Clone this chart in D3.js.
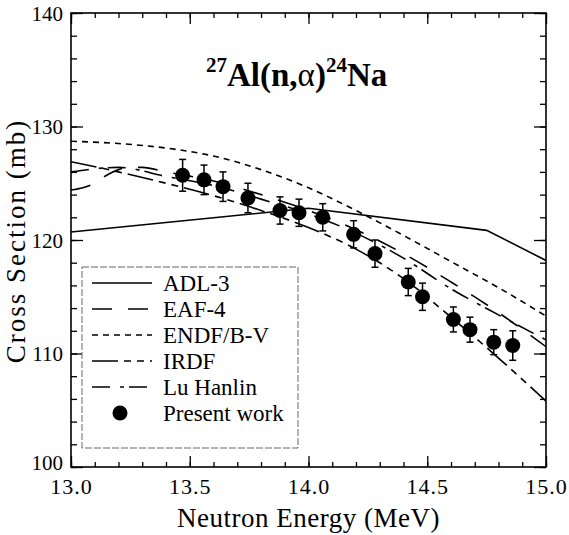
<!DOCTYPE html>
<html><head><meta charset="utf-8">
<script src="https://cdn.jsdelivr.net/npm/d3@7"></script>
<style>body{margin:0;background:#fff} svg text{font-family:'Liberation Serif','Times New Roman',Times,Tinos,'DejaVu Serif',serif !important}</style>
</head><body><svg id="c" width="569" height="535" font-family="Liberation Serif, Times New Roman, DejaVu Serif, serif"></svg>
<script>
// ---- data ----
const energy = [13.47,13.56,13.64,13.745,13.88,13.96,14.06,14.19,14.28,14.42,14.48,14.61,14.68,14.78,14.86];
const crossSection = [125.7,125.3,124.7,123.7,122.6,122.4,122.0,120.5,118.8,116.3,115.0,113.0,112.1,111.0,110.7];
const errorBar = [1.4,1.3,1.3,1.3,1.2,1.2,1.2,1.2,1.2,1.2,1.2,1.1,1.1,1.1,1.3];

const adl3E = [13.0,14.0,14.75,15.0];
const adl3S = [120.7,122.8,120.85,118.2];
const eaf4E = [13.0,13.05,13.1,13.15,13.2,13.25,13.3,13.4,13.6,13.8,14.0,14.2,14.4,14.6,14.8,15.0];
const eaf4S = [124.4,124.6,125.0,125.7,126.2,126.4,126.4,126.0,125.2,124.0,122.6,120.9,118.8,116.3,113.6,110.6];
const endfE = [13.0,13.2,13.4,13.6,13.8,14.0,14.2,14.4,14.6,14.8,15.0];
const endfS = [128.7,128.5,128.1,127.4,126.2,124.6,122.6,120.4,118.1,115.8,113.3];
const irdfE = [13.0,13.2,13.4,13.6,13.8,14.0,14.2,14.4,14.6,14.8,15.0];
const irdfS = [126.9,126.0,125.0,123.9,122.6,121.1,119.2,116.6,113.2,109.6,105.8];
const luE = [13.0,13.2,13.4,13.6,13.8,14.0,14.2,14.4,14.6,14.8,15.0];
const luS = [126.0,126.4,125.6,124.8,123.6,122.3,120.6,118.4,115.7,113.4,111.2];

const xTicks = [13.0,13.5,14.0,14.5,15.0];
const yTicks = [100,110,120,130,140];
const seriesNames = ["ADL-3","EAF-4","ENDF/B-V","IRDF","Lu Hanlin","Present work"];

// ---- chart ----
const FONT = "Liberation Serif, Times New Roman, DejaVu Serif, serif";
const svg = d3.select("#c");
const L=71,R=546,T=13,B=467;
const x = d3.scaleLinear([13,15],[L,R]);
const y = d3.scaleLinear([100,140],[B,T]);

const minorX = d3.range(130,151).map(d=>d/10);
const minorY = d3.range(100,141,2);

function axisG(axis, tr){
  const g = svg.append("g").attr("transform",tr).call(axis);
  g.attr("font-family",FONT);
  g.select(".domain").remove();
  g.selectAll("line").attr("stroke","#000").attr("stroke-width",1.3);
  return g;
}
// minor ticks
axisG(d3.axisBottom(x).tickValues(minorX).tickSize(-5).tickFormat(""),`translate(0,${B})`);
axisG(d3.axisTop(x).tickValues(minorX).tickSize(-5).tickFormat(""),`translate(0,${T})`);
axisG(d3.axisLeft(y).tickValues(minorY).tickSize(-6).tickFormat(""),`translate(${L},0)`);
axisG(d3.axisRight(y).tickValues(minorY).tickSize(-6).tickFormat(""),`translate(${R},0)`);
// major ticks
const bx = axisG(d3.axisBottom(x).tickValues(xTicks).tickSize(-11).tickPadding(11).tickFormat(d3.format(".1f")),`translate(0,${B})`);
axisG(d3.axisTop(x).tickValues(xTicks).tickSize(-11).tickFormat(""),`translate(0,${T})`);
const ly = axisG(d3.axisLeft(y).tickValues(yTicks).tickSize(-12).tickPadding(8).tickFormat(d3.format("d")),`translate(${L},0)`);
axisG(d3.axisRight(y).tickValues(yTicks).tickSize(-12).tickFormat(""),`translate(${R},0)`);
bx.selectAll("text").attr("font-size",22).attr("letter-spacing",1).attr("fill","#000");
ly.selectAll("text").attr("font-size",21).attr("fill","#000")
  .attr("dy",d=>d===100?"0.1em":"0.35em");

svg.append("rect").attr("x",L).attr("y",T).attr("width",R-L).attr("height",B-T)
  .attr("fill","none").attr("stroke","#000").attr("stroke-width",1.6);

// axis titles
svg.append("text").attr("x",(L+R)/2).attr("y",527).attr("text-anchor","middle")
  .attr("font-size",27).attr("letter-spacing",0.5).text("Neutron Energy (MeV)");
svg.append("text").attr("transform","translate(25,241) rotate(-90)").attr("text-anchor","middle")
  .attr("font-size",27).attr("letter-spacing",2).text("Cross Section (mb)");

// title
const t = svg.append("text").attr("x",206).attr("y",86).attr("font-size",33).attr("font-weight","bold");
t.append("tspan").attr("font-size",21).attr("dy",-14).text("27");
t.append("tspan").attr("dy",14).text("Al(n,");
t.append("tspan").attr("font-weight","normal").text("α");
t.append("tspan").text(")");
t.append("tspan").attr("font-size",21).attr("dy",-14).text("24");
t.append("tspan").attr("dy",14).text("Na");

// lines
const styles = {
  "ADL-3":null,
  "EAF-4":"20,16",
  "ENDF/B-V":"6,5",
  "IRDF":"26,6,7,6,7,6",
  "Lu Hanlin":"18,10,4,5"
};
const series = [
  ["ADL-3", d3.zip(adl3E,adl3S), d3.curveLinear],
  ["EAF-4", d3.zip(eaf4E,eaf4S), d3.curveMonotoneX],
  ["ENDF/B-V", d3.zip(endfE,endfS), d3.curveMonotoneX],
  ["IRDF", d3.zip(irdfE,irdfS), d3.curveMonotoneX],
  ["Lu Hanlin", d3.zip(luE,luS), d3.curveMonotoneX]
];
svg.append("clipPath").attr("id","pc").append("rect").attr("x",L).attr("y",T).attr("width",R-L).attr("height",B-T);
const plot = svg.append("g").attr("clip-path","url(#pc)");
series.forEach(([name,pts,cv])=>{
  plot.append("path").attr("d",d3.line().x(d=>x(d[0])).y(d=>y(d[1])).curve(cv)(pts))
    .attr("fill","none").attr("stroke","#000").attr("stroke-width",1.6)
    .attr("stroke-dasharray",styles[name]);
});

// data points
const pts = d3.zip(energy,crossSection,errorBar);
const g = svg.append("g");
pts.forEach(([e,s,err])=>{
  g.append("line").attr("x1",x(e)).attr("x2",x(e)).attr("y1",y(s-err)).attr("y2",y(s+err)).attr("stroke","#000").attr("stroke-width",1.5);
  [s-err,s+err].forEach(v=>g.append("line").attr("x1",x(e)-3.5).attr("x2",x(e)+3.5).attr("y1",y(v)).attr("y2",y(v)).attr("stroke","#000").attr("stroke-width",1.5));
  g.append("circle").attr("cx",x(e)).attr("cy",y(s)).attr("r",7.5).attr("fill","#000");
});

// legend
svg.append("rect").attr("x",82).attr("y",267).attr("width",216).attr("height",181)
  .attr("fill","#fff").attr("stroke","#666").attr("stroke-width",1).attr("stroke-dasharray","7,2");
const rows = [283,309,335,361,387,413];
seriesNames.forEach((n,i)=>{
  const yy = rows[i];
  if(i<5){
    svg.append("line").attr("x1",92).attr("x2",152).attr("y1",yy).attr("y2",yy)
      .attr("stroke","#000").attr("stroke-width",1.6).attr("stroke-dasharray",styles[n]);
  } else {
    svg.append("circle").attr("cx",120).attr("cy",yy).attr("r",7.5).attr("fill","#000");
  }
  svg.append("text").attr("x",163).attr("y",yy+8).attr("font-size",23).text(n);
});
</script></body></html>
